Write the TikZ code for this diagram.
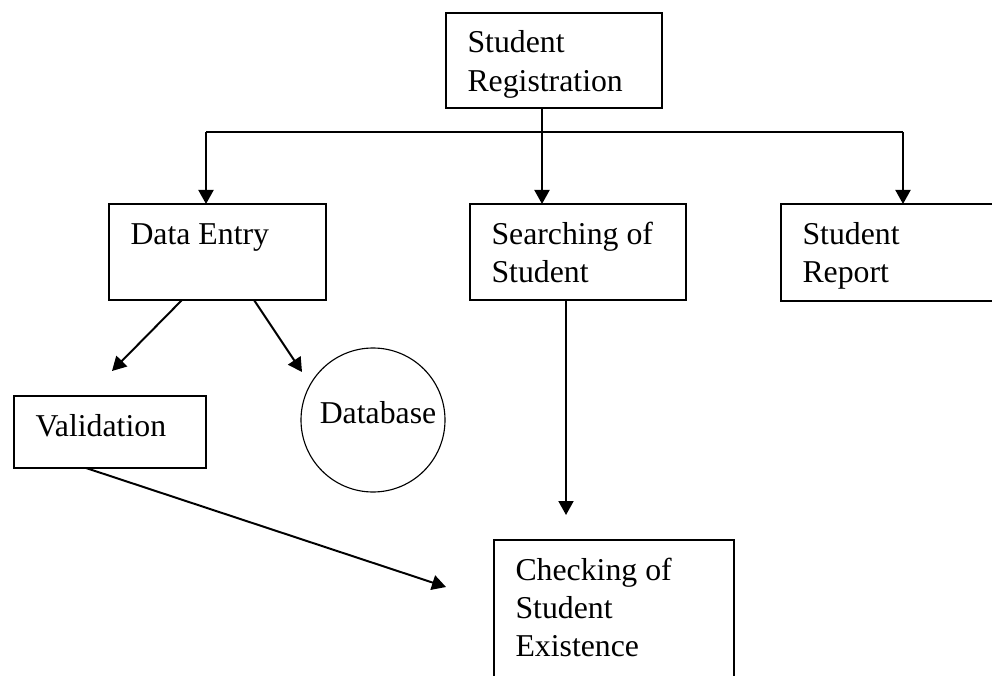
\documentclass[tikz,border=0pt]{standalone}
\usepackage{fontspec}
\setmainfont{Liberation Serif}
\usetikzlibrary{arrows.meta}

% one pixel of the sketch
\newdimen\pxu
\pxu=0.025cm

\begin{document}
\begin{tikzpicture}[x=0.025cm, y=-0.025cm,
	font=\fontsize{22.6pt}{27.03pt}\selectfont,
	box/.style={draw, line width=0.95pt, anchor=north west, align=flush left,
		inner xsep=21.5\pxu, inner ysep=0pt, outer sep=0pt, text height=40\pxu},
	arr/.style={line width=1.4pt, -{Triangle[length=0.35cm, width=0.375cm]}},
]

\useasboundingbox (0,0) rectangle (992,676);
\clip (0,0) rectangle (992,676);

	% modules
	\node[box, text width=173\pxu, text depth=55\pxu] (reg) at (446,13) {Student\\Registration};
	\node[box, text width=174\pxu, text depth=56\pxu] (entry) at (109,204) {Data Entry};
	\node[box, text width=173\pxu, text depth=56\pxu] (search) at (470,204) {Searching of\\Student};
	\node[box, text width=173\pxu, text depth=57\pxu] (report) at (781,204) {Student\\Report};
	\node[box, text width=149\pxu, text depth=32\pxu] (valid) at (14,396) {Validation};
	\node[box, text width=197\pxu, text depth=200\pxu] (check) at (494,540) {Checking of\\Student\\Existence};
	\node[circle, draw, line width=0.8pt, minimum size=144\pxu, inner sep=0pt,
		text height=20\pxu, text depth=14\pxu] (db) at (373,420) {\hspace*{10\pxu}Database};

	% bus below the registration box
	\coordinate (busL) at (206,132);
	\coordinate (busM) at (542,132);
	\coordinate (busR) at (903,132);
	\draw [line width=1pt] (reg.south -| busM) -- (busM);
	\draw [line width=1.4pt] (busL) -- (busR);
	\draw [arr] (busL) -- (busL |- entry.north);
	\draw [arr] (busM) -- (busM |- search.north);
	\draw [arr] (busR) -- (busR |- report.north);

	% loose arrow ends
	\coordinate (tipV) at (112,371);
	\coordinate (tipD) at (302,372);
	\coordinate (tipS) at (566,515);
	\coordinate (tipC) at (446,587);
	\draw [arr] ([xshift=73\pxu]entry.south west) -- (tipV);
	\draw [arr] ([xshift=145\pxu]entry.south west) -- (tipD);
	\draw [arr] ([xshift=96\pxu]search.south west) -- (tipS);
	\draw [arr] ([xshift=72\pxu]valid.south west) -- (tipC);

\end{tikzpicture}
\end{document}
